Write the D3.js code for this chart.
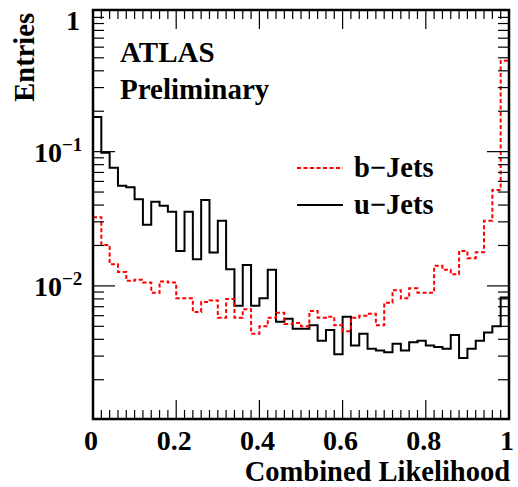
<!DOCTYPE html>
<html>
<head>
<meta charset="utf-8">
<script src="https://cdn.jsdelivr.net/npm/d3@7"></script>
<style>
  body { margin: 0; background: #fff; }
  text { font-family: "Liberation Serif", "DejaVu Serif", serif; font-weight: bold; }
</style>
</head>
<body>
<div class="chart"></div>
<script>
// Data: 50 bins of width 0.02 on [0,1]
var binLow = 0, binHigh = 1, nBins = 50;

var bJets = [0.0325, 0.0202, 0.0145, 0.0127, 0.0109, 0.0111, 0.0106, 0.0089, 0.0108, 0.0106,
             0.0081, 0.0081, 0.0064, 0.0076, 0.0078, 0.0058, 0.0080, 0.0058, 0.0067, 0.0044,
             0.0050, 0.0058, 0.0063, 0.0052, 0.0053, 0.0050, 0.0065, 0.0058, 0.0059, 0.0051,
             0.0046, 0.0058, 0.0060, 0.0062, 0.0051, 0.0075, 0.0093, 0.0081, 0.0096, 0.0089,
             0.0089, 0.0141, 0.0132, 0.0122, 0.0182, 0.0161, 0.0178, 0.0306, 0.0519, 0.476];

var uJets = [0.181, 0.0983, 0.0760, 0.0558, 0.0543, 0.0442, 0.0285, 0.0424, 0.0396, 0.0356,
             0.0182, 0.0357, 0.0158, 0.0437, 0.0177, 0.0306, 0.0133, 0.0071, 0.0143, 0.0071,
             0.0081, 0.0132, 0.0054, 0.0057, 0.0048, 0.0048, 0.0051, 0.0039, 0.0047, 0.0031,
             0.0059, 0.0036, 0.0044, 0.0034, 0.0033, 0.0032, 0.0037, 0.0033, 0.0038, 0.0039,
             0.0036, 0.0035, 0.0034, 0.0043, 0.0029, 0.0034, 0.0039, 0.0045, 0.0050, 0.0082];

var xTicks = [0, 0.2, 0.4, 0.6, 0.8, 1];
var xTickLabels = ["0", "0.2", "0.4", "0.6", "0.8", "1"];

// Chart setup
var svgWidth = 518;
var svgHeight = 487;
var frame = { left: 93, right: 509, top: 10, bottom: 419 };

var svg = d3.select(".chart")
  .append("svg")
  .attr("width", svgWidth)
  .attr("height", svgHeight);

var xScale = d3.scaleLinear()
  .domain([binLow, binHigh])
  .range([frame.left, frame.right]);

var yScale = d3.scaleLog()
  .domain([1.02e-3, 1.135])
  .range([frame.bottom, frame.top]);

// histogram as step line
function histPoints(vals) {
  var w = (binHigh - binLow) / nBins;
  var pts = vals.map((v, i) => [binLow + i * w, v]);
  pts.push([binHigh, vals[vals.length - 1]]);
  return pts;
}

var stepLine = d3.line()
  .x(d => xScale(d[0]))
  .y(d => yScale(d[1]))
  .curve(d3.curveStepAfter);

svg.append("path")
  .attr("d", stepLine(histPoints(uJets)))
  .attr("fill", "none")
  .attr("stroke", "#000")
  .attr("stroke-width", 2);

svg.append("path")
  .attr("d", stepLine(histPoints(bJets)))
  .attr("fill", "none")
  .attr("stroke", "#ff0000")
  .attr("stroke-width", 2)
  .attr("stroke-dasharray", "4,2.5");

// ticks - x axis (bottom and top, pointing inward)
var xMinor = d3.range(0, 51).map(i => i / 50);
var ticks = svg.append("g").attr("stroke", "#000").attr("stroke-width", 1.2);
xMinor.forEach(function (t, i) {
  var len = (i % 10 === 0) ? 19 : 9;
  var x = xScale(t);
  ticks.append("line").attr("x1", x).attr("x2", x)
    .attr("y1", frame.bottom).attr("y2", frame.bottom - len);
  ticks.append("line").attr("x1", x).attr("x2", x)
    .attr("y1", frame.top).attr("y2", frame.top + len);
});

// ticks - y axis (log)
var yMinor = [];
[1e-3, 1e-2, 1e-1, 1].forEach(function (dec) {
  for (var k = 1; k <= 9; k++) yMinor.push({ v: dec * k, major: k === 1 && dec < 1 });
});
yMinor.filter(d => d.v >= 1.02e-3 && d.v <= 1.135).forEach(function (d) {
  var len = d.major ? 22 : 11;
  var y = yScale(d.v);
  ticks.append("line").attr("x1", frame.left).attr("x2", frame.left + len)
    .attr("y1", y).attr("y2", y);
  ticks.append("line").attr("x1", frame.right).attr("x2", frame.right - len)
    .attr("y1", y).attr("y2", y);
});

// frame
svg.append("rect")
  .attr("x", frame.left).attr("y", frame.top)
  .attr("width", frame.right - frame.left)
  .attr("height", frame.bottom - frame.top)
  .attr("fill", "none")
  .attr("stroke", "#000")
  .attr("stroke-width", 2.5);

// x tick labels
svg.selectAll(".xlab")
  .data(xTicks)
  .enter()
  .append("text")
  .attr("class", "xlab")
  .attr("x", d => xScale(d) - 2)
  .attr("y", 450)
  .attr("text-anchor", "middle")
  .attr("font-size", 28)
  .text((d, i) => xTickLabels[i]);

// y tick labels
svg.append("text")
  .attr("x", 80).attr("y", yScale(1) + 13)
  .attr("text-anchor", "end")
  .attr("font-size", 28)
  .text("1");

[[1e-1, "\u22121"], [1e-2, "\u22122"]].forEach(function (d) {
  var t = svg.append("text")
    .attr("x", 34).attr("y", yScale(d[0]) + 10)
    .attr("font-size", 28);
  t.append("tspan").text("10");
  t.append("tspan").attr("dy", -11).attr("font-size", 19).text(d[1]);
});

// axis titles
svg.append("text")
  .attr("x", 510).attr("y", 481)
  .attr("text-anchor", "end")
  .attr("font-size", 28.5)
  .text("Combined Likelihood");

svg.append("text")
  .attr("transform", "translate(34, 13) rotate(-90)")
  .attr("text-anchor", "end")
  .attr("font-size", 28.5)
  .text("Entries");

// ATLAS label
svg.append("text").attr("x", 120).attr("y", 62).attr("font-size", 29).text("ATLAS");
svg.append("text").attr("x", 120).attr("y", 99).attr("font-size", 29).text("Preliminary");

// legend
var legend = [
  { name: "b\u2212Jets", color: "#ff0000", dash: "4,2.5", y: 168 },
  { name: "u\u2212Jets", color: "#000", dash: null, y: 205 }
];
legend.forEach(function (d) {
  svg.append("line")
    .attr("x1", 297).attr("x2", 343)
    .attr("y1", d.y).attr("y2", d.y)
    .attr("stroke", d.color)
    .attr("stroke-width", 2)
    .attr("stroke-dasharray", d.dash);
  svg.append("text")
    .attr("x", 354).attr("y", d.y + 9)
    .attr("font-size", 28.5)
    .text(d.name);
});
</script>
</body>
</html>
